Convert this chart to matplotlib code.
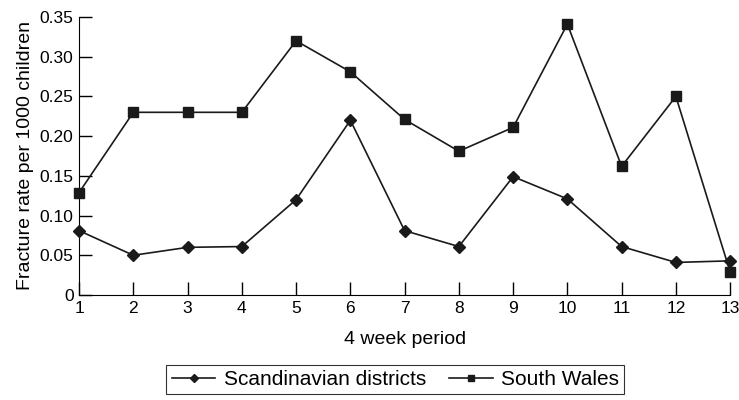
import numpy as np
from matplotlib import pyplot as plt

plt.rcParams['font.family'] = ['Liberation Sans', 'DejaVu Sans']

periods = np.arange(1, 14)
scandinavian = [0.081, 0.050, 0.060, 0.061, 0.120, 0.220, 0.081, 0.061, 0.149, 0.121, 0.061, 0.041, 0.043]
south_wales = [0.129, 0.230, 0.230, 0.230, 0.320, 0.281, 0.221, 0.181, 0.211, 0.341, 0.162, 0.250, 0.029]
yticks = [0, 0.05, 0.10, 0.15, 0.20, 0.25, 0.30, 0.35]
ytick_labels = ["0", "0.05", "0.10", "0.15", "0.20", "0.25", "0.30", "0.35"]

fig = plt.figure(figsize=(7.39, 4.0), dpi=100)
ax = fig.add_axes([0.107, 0.2625, 0.881, 0.695])

line_col = "#1a1a1a"
ax.plot(periods, scandinavian, "-D", color=line_col, lw=1.2, ms=6.5,
        label="Scandinavian districts", clip_on=False, zorder=3)
ax.plot(periods, south_wales, "-s", color=line_col, lw=1.2, ms=7,
        label="South Wales", clip_on=False, zorder=3)

ax.set_xlim(1, 13)
ax.set_ylim(0, 0.35)
ax.set_xticks(periods)
ax.set_yticks(yticks)
ax.set_yticklabels(ytick_labels)
ax.tick_params(direction="in", length=9.5, width=1, labelsize=12.5, pad=4)
ax.spines["top"].set_visible(False)
ax.spines["right"].set_visible(False)
ax.set_xlabel("4 week period", fontsize=14, labelpad=11)
ax.set_ylabel("Fracture rate per 1000 children", fontsize=14, labelpad=4)

leg = fig.legend(loc="upper center", bbox_to_anchor=(0.535, 0.0875), ncol=2,
                 fontsize=15, frameon=True, fancybox=False, edgecolor="black",
                 handlelength=2.1, handletextpad=0.4, columnspacing=1.1,
                 borderpad=0.25, borderaxespad=0, markerscale=0.65)
leg.get_frame().set_linewidth(0.8)

fig.savefig("out.png", dpi=100)
